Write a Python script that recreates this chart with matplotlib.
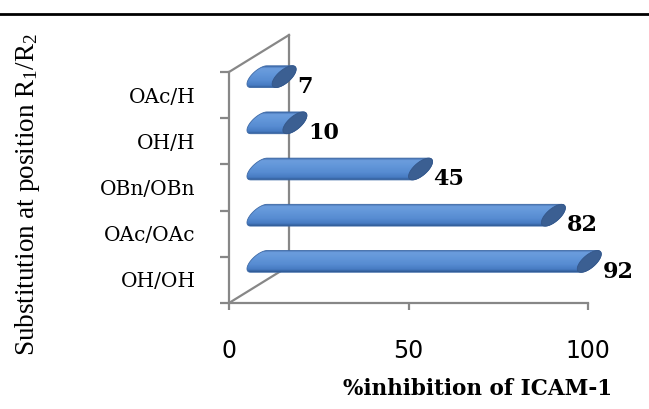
import numpy as np
import matplotlib
matplotlib.use("Agg")
import matplotlib.pyplot as plt
from matplotlib.lines import Line2D
from matplotlib.patches import Polygon
from matplotlib.colors import LinearSegmentedColormap

plt.rcParams['mathtext.fontset'] = 'custom'
plt.rcParams['mathtext.rm'] = 'Liberation Serif'
plt.rcParams['mathtext.it'] = 'Liberation Serif:italic'

# substituents, bottom to top
labels = ['OH/OH', 'OAc/OAc', 'OBn/OBn', 'OH/H', 'OAc/H']
inhibition = [92, 82, 45, 10, 7]
xticks = [0, 50, 100]

grey = '#878787'
# oblique depth of the 3-D box, in data units
DX, DY = 16.7, 0.80
zc, rz, ry = 0.5, 0.2, 0.173

fig = plt.figure(figsize=(6.49, 4.09), dpi=100)
ax = fig.add_axes([229 / 649, 1 - 303 / 409, 359 / 649, 231 / 409])
ax.patch.set_visible(False)

for s in ['top', 'right']:
    ax.spines[s].set_visible(False)
for s in ['left', 'bottom']:
    ax.spines[s].set_color(grey)
    ax.spines[s].set_linewidth(1.6)

ax.set_xticks(xticks)
ax.set_xticklabels([str(t) for t in xticks], fontsize=17, family='DejaVu Sans')
ax.tick_params(axis='x', direction='out', length=5, width=1.6, color=grey, pad=21)

n = len(labels)
ax.set_yticks(np.arange(n + 1))
ax.set_yticklabels([])
ax.tick_params(axis='y', which='major', direction='out', length=6.5, width=1.6, color=grey)
ax.set_yticks(np.arange(n) + 0.5, minor=True)
ax.set_yticklabels(labels, minor=True, fontsize=14.5, family='DejaVu Serif')
ax.tick_params(axis='y', which='minor', length=0, pad=24)

# back wall and floor edges
ax.plot([0, DX], [n, n + DY], color=grey, lw=1.6, clip_on=False, zorder=1)
ax.plot([DX, DX], [DY, n + DY], color=grey, lw=1.6, clip_on=False, zorder=1)
ax.plot([0, DX], [0, DY], color=grey, lw=1.6, clip_on=False, zorder=1)

# cylinder shading, top edge to bottom edge
shade = LinearSegmentedColormap.from_list('cyl', [
    (0.0, '#3c68a8'), (0.1, '#6c9ddd'), (0.3, '#6498da'),
    (0.65, '#578cd2'), (0.88, '#477bc2'), (1.0, '#2d5792')])
grad = np.linspace(0, 1, 64).reshape(-1, 1)

t_top = np.arctan2(rz * DY, ry)


def ell(t):
    return rz * DX * np.sin(t), ry * np.cos(t) + rz * DY * np.sin(t)


ymax = np.hypot(ry, rz * DY)
for i, v in enumerate(inhibition):
    yc = i + 0.5 + zc * DY
    x0 = zc * DX
    x1 = v + zc * DX
    ta = np.linspace(t_top, t_top - np.pi, 60)
    tb = np.linspace(t_top + np.pi, t_top, 60)
    ax_, ay_ = ell(ta)
    bx_, by_ = ell(tb)
    pts = np.vstack([np.column_stack([x0 + ax_, yc + ay_]),
                     np.column_stack([x1 + bx_, yc + by_])])
    body = Polygon(pts, closed=True, facecolor='none', edgecolor='#3d69a6',
                   lw=0.6, clip_on=False, zorder=3)
    ax.add_patch(body)
    img = ax.imshow(grad, cmap=shade, aspect='auto', zorder=2,
                    extent=[x0 - rz * DX, x1 + rz * DX, yc - ymax, yc + ymax],
                    origin='upper', interpolation='bilinear')
    img.set_clip_box(fig.bbox)
    img.set_clip_path(body)
    tc = np.linspace(0, 2 * np.pi, 80)
    cx, cy = ell(tc)
    ax.add_patch(Polygon(np.column_stack([x1 + cx, yc + cy]), closed=True,
                         facecolor='#3b5f92', edgecolor='#34578a', lw=0.6,
                         clip_on=False, zorder=4))
    ax.text(x1 + rz * DX + 0.3, yc - 0.22, str(v), ha='left', va='center',
            fontsize=16, fontweight='bold', family='DejaVu Serif', zorder=5)

ax.set_xlim(0, 100)
ax.set_ylim(0, n)

fig.text(478 / 649, 1 - 389 / 409, '%inhibition of ICAM-1', ha='center', va='center',
         fontsize=15.5, fontweight='bold', family='DejaVu Serif')
fig.text(28 / 649, 1 - 194 / 409, 'Substitution at position R$_1$/R$_2$',
         rotation=90, ha='center', va='center', fontsize=19.5, family='Liberation Serif')

fig.add_artist(Line2D([0, 1], [1 - 13.5 / 409] * 2, transform=fig.transFigure,
                      color='black', lw=2))

fig.savefig('out.png', dpi=100)
